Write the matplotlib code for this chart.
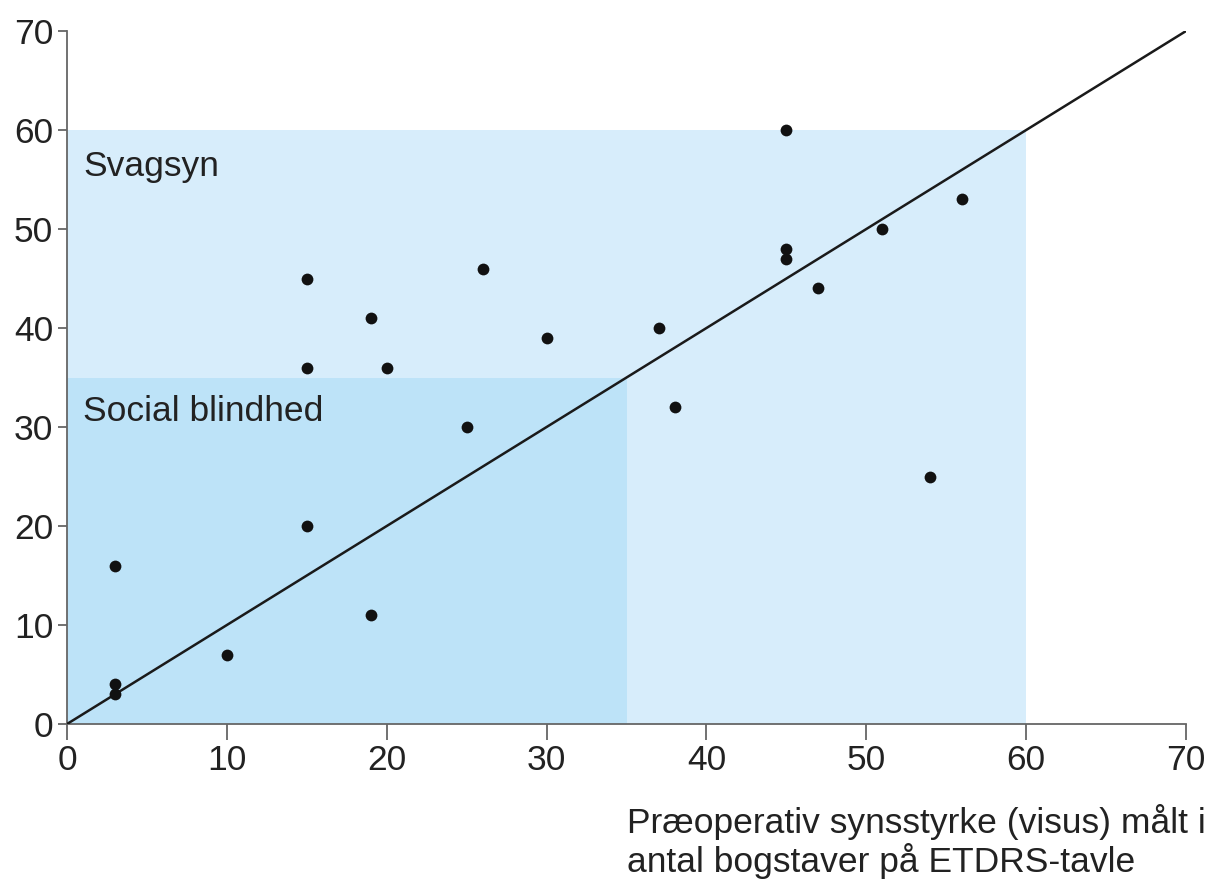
import matplotlib.pyplot as plt

plt.rcParams['font.family'] = ['Liberation Sans', 'DejaVu Sans']

# preoperative vs postoperative visual acuity (letters on ETDRS chart)
pre = [3, 3, 3, 10, 15, 15, 15, 19, 19, 20, 25, 26, 30, 37, 38, 45, 45, 45, 47, 51, 54, 56]
post = [16, 4, 3, 7, 45, 36, 20, 41, 11, 36, 30, 46, 39, 40, 32, 60, 48, 47, 44, 50, 25, 53]

ticks = [0, 10, 20, 30, 40, 50, 60, 70]
svagsyn_lim = 60
blind_lim = 35

fig = plt.figure(figsize=(12.12, 8.81), dpi=100)
ax = fig.add_axes([0.0553, 0.1782, 0.9233, 0.7866])

# zones
ax.fill_between([0, svagsyn_lim], 0, svagsyn_lim, color='#d7edfb', lw=0, zorder=0)
ax.fill_between([0, blind_lim], 0, blind_lim, color='#bde3f8', lw=0, zorder=1)

ax.plot([0, 70], [0, 70], color='#1a1a1a', lw=1.8, zorder=3)
ax.scatter(pre, post, s=72, color='#111111', zorder=4, linewidths=0)

ax.text(1.0, 56.3, 'Svagsyn', fontsize=25.5, color='#222222', va='center')
ax.text(1.0, 31.6, 'Social blindhed', fontsize=25.5, color='#222222', va='center')

ax.set_xlim(0, 70)
ax.set_ylim(0, 70)
ax.set_xticks(ticks)
ax.set_yticks(ticks)
for s in ['top', 'right']:
    ax.spines[s].set_visible(False)
for s in ['left', 'bottom']:
    ax.spines[s].set_color('#666666')
    ax.spines[s].set_linewidth(1.3)
ax.tick_params(axis='both', width=1.3, color='#666666',
               labelsize=25.5, labelcolor='#222222')
ax.tick_params(axis='x', length=11.5, pad=3)
ax.tick_params(axis='y', length=6.5, pad=3.5)

fig.text(627 / 1212, 1 - 804 / 881,
         'Præoperativ synsstyrke (visus) målt i\nantal bogstaver på ETDRS-tavle',
         fontsize=25.5, color='#222222', ha='left', va='top', linespacing=1.1)

fig.savefig('out.png', dpi=100)
